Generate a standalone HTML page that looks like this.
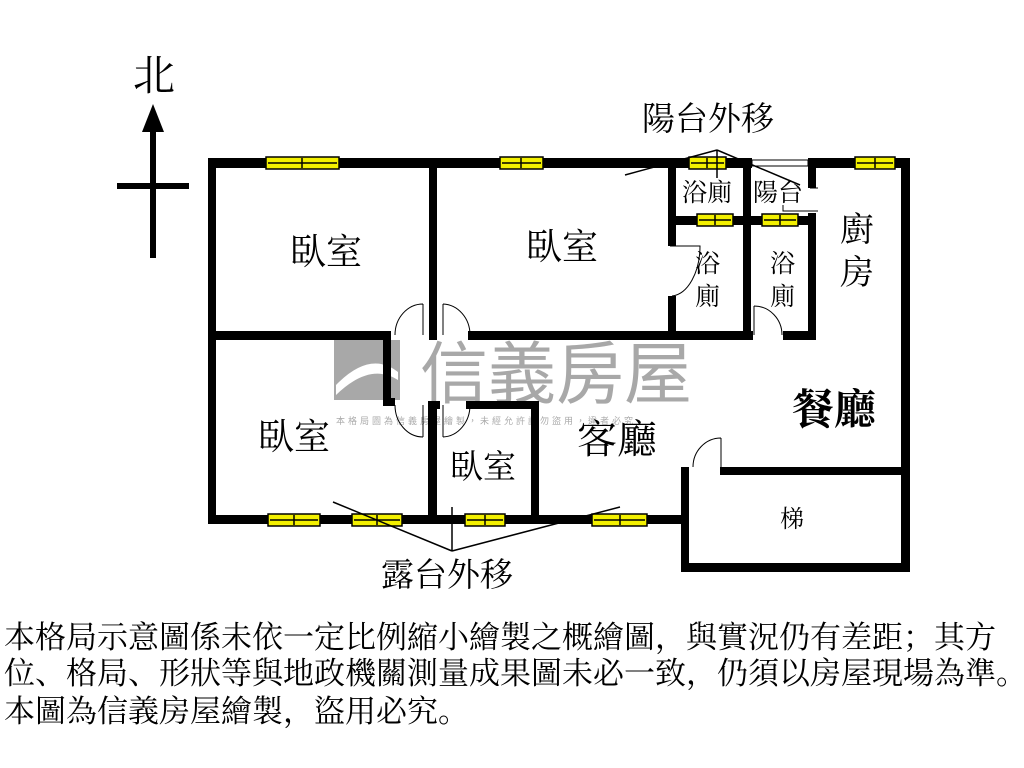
<!DOCTYPE html>
<html><head><meta charset="utf-8"><style>
html,body{margin:0;padding:0;background:#fff;width:1024px;height:768px;overflow:hidden}
svg{position:absolute;left:0;top:0}
.t{font-family:"Liberation Serif","Noto Serif CJK SC",serif;fill:#000}
.foot{position:absolute;left:4px;font-family:"Liberation Serif","Noto Serif CJK SC",serif;font-size:31px;line-height:36px;color:#000;white-space:nowrap}
</style></head><body>
<svg width="1024" height="768" viewBox="0 0 1024 768">
<!-- watermark -->
<rect x="334" y="340" width="66" height="60" fill="#a8a8a8"/>
<path d="M336,385 Q370,350 398,372 L398,380 Q370,362 336,395 Z" fill="#fff"/>
<text x="420" y="398" font-size="68" fill="#a8a8a8" font-family="Liberation Sans,Noto Sans CJK TC,sans-serif">信義房屋</text>
<text x="336" y="424" font-size="9" fill="#aaa" font-family="Liberation Sans,Noto Sans CJK TC,sans-serif" letter-spacing="3">本格局圖為信義房屋繪製，未經允許請勿盜用，違者必究</text>
<!-- compass -->
<text x="133" y="90" font-size="42" class="t">北</text>
<rect x="150" y="128" width="6" height="130" fill="#000"/>
<polygon points="153,104 142,132 164,132" fill="#000"/>
<rect x="117" y="183" width="72" height="6" fill="#000"/>
<g fill="#000">
<rect x="208" y="158" width="544" height="10"/>
<rect x="808" y="158" width="102" height="10"/>
<rect x="208" y="158" width="8" height="366"/>
<rect x="208" y="515" width="480" height="9"/>
<rect x="901" y="158" width="9" height="414"/>
<rect x="681" y="467" width="8" height="105"/>
<rect x="681" y="563" width="229" height="9"/>
<rect x="720" y="467" width="190" height="8"/>
<rect x="208" y="331" width="183" height="9"/>
<rect x="383" y="331" width="8" height="74"/>
<rect x="383" y="398" width="12" height="8"/>
<rect x="429" y="158" width="8" height="182"/>
<rect x="468" y="331" width="285" height="9"/>
<rect x="783" y="331" width="33" height="9"/>
<rect x="428" y="401" width="9" height="123"/>
<rect x="428" y="401" width="12" height="8"/>
<rect x="466" y="401" width="73" height="8"/>
<rect x="531" y="401" width="8" height="123"/>
<rect x="668" y="158" width="8" height="88"/>
<rect x="668" y="296" width="8" height="44"/>
<rect x="668" y="216" width="148" height="9"/>
<rect x="743" y="158" width="8" height="182"/>
<rect x="808" y="158" width="8" height="30"/>
<rect x="808" y="213" width="8" height="127"/>
</g>
<rect x="752" y="160" width="56" height="6" fill="#fff" stroke="#000" stroke-width="1"/>
<g fill="#f3f000" stroke="#000" stroke-width="1.5">
<rect x="266" y="157" width="73" height="12"/>
<rect x="500" y="157" width="43" height="12"/>
<rect x="689" y="157" width="37" height="12"/>
<rect x="855" y="157" width="40" height="12"/>
<rect x="697" y="214" width="36" height="12"/>
<rect x="762" y="214" width="36" height="12"/>
<rect x="268" y="514" width="52" height="12"/>
<rect x="352" y="514" width="50" height="12"/>
<rect x="465" y="514" width="40" height="12"/>
<rect x="592" y="514" width="55" height="12"/>
</g>
<g stroke="#000" stroke-width="1.5">
<line x1="268" y1="163" x2="337" y2="163"/><line x1="302" y1="158" x2="302" y2="168"/>
<line x1="502" y1="163" x2="541" y2="163"/><line x1="521" y1="158" x2="521" y2="168"/>
<line x1="691" y1="163" x2="724" y2="163"/><line x1="707" y1="158" x2="707" y2="168"/>
<line x1="857" y1="163" x2="893" y2="163"/><line x1="875" y1="158" x2="875" y2="168"/>
<line x1="699" y1="220" x2="731" y2="220"/><line x1="715" y1="215" x2="715" y2="225"/>
<line x1="764" y1="220" x2="796" y2="220"/><line x1="780" y1="215" x2="780" y2="225"/>
<line x1="270" y1="520" x2="318" y2="520"/><line x1="294" y1="515" x2="294" y2="525"/>
<line x1="354" y1="520" x2="400" y2="520"/><line x1="377" y1="515" x2="377" y2="525"/>
<line x1="467" y1="520" x2="503" y2="520"/><line x1="485" y1="515" x2="485" y2="525"/>
<line x1="594" y1="520" x2="645" y2="520"/><line x1="620" y1="515" x2="620" y2="525"/>
</g>
<g fill="none" stroke="#000" stroke-width="1">
<path d="M423,304 L423,335 M423,304 A28,31 0 0 0 395,335"/>
<path d="M443,304 L443,335 M443,304 A28,31 0 0 1 470,335"/>
<path d="M423,437 L423,405 M423,437 A28,32 0 0 1 395,405"/>
<path d="M443,437 L443,405 M443,437 A28,32 0 0 0 470,405"/>
<path d="M754,306 L754,335 M754,306 A28,29 0 0 1 782,335"/>
<path d="M670,246 L700,246 A30,50 0 0 1 672,296"/>
<path d="M721,438 L721,467 M721,438 A28,29 0 0 0 693,467"/>
<path d="M810,188 L818,188 M818,211 L810,211 M810,211 L783,211 L783,205"/>
<path d="M717,150 L625,175 M717,150 L800,185 M717,150 L717,178" stroke-width="1.5"/>
<path d="M452,551 L333,502 M452,551 L620,507 M452,551 L452,507" stroke-width="1.5"/>
</g>
<g class="t">
<text x="642" y="130" font-size="33">陽台外移</text>
<text x="381" y="586" font-size="33">露台外移</text>
<text x="290" y="264" font-size="36">臥室</text>
<text x="526" y="259" font-size="36">臥室</text>
<text x="258" y="449" font-size="36">臥室</text>
<text x="450" y="478" font-size="33">臥室</text>
<text x="577" y="453" font-size="40">客廳</text>
<text x="792" y="424" font-size="42" font-weight="bold">餐廳</text>
<text x="840" y="241" font-size="34">廚</text>
<text x="840" y="284" font-size="34">房</text>
<text x="682" y="201" font-size="25">浴廁</text>
<text x="753" y="201" font-size="25">陽台</text>
<text x="695" y="272" font-size="25">浴</text>
<text x="695" y="305" font-size="25">廁</text>
<text x="770" y="272" font-size="25">浴</text>
<text x="770" y="305" font-size="25">廁</text>
<text x="780" y="527" font-size="24">梯</text>
</g>
</svg>
<div class="foot" style="top:620px">本格局示意圖係未依一定比例縮小繪製之概繪圖，與實況仍有差距；其方</div>
<div class="foot" style="top:656px">位、格局、形狀等與地政機關測量成果圖未必一致，仍須以房屋現場為準。</div>
<div class="foot" style="top:694px">本圖為信義房屋繪製，盜用必究。</div>
</body></html>
